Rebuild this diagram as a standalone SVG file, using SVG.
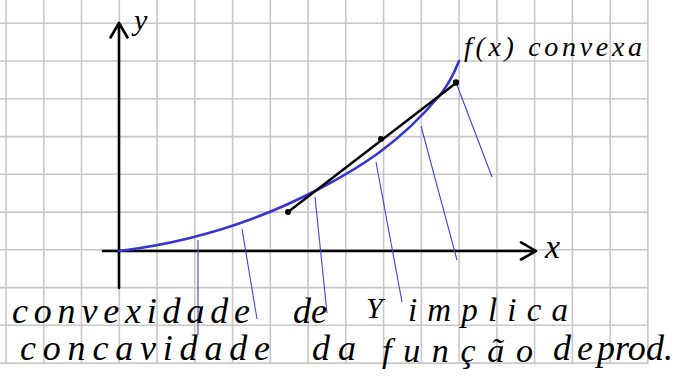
<svg xmlns="http://www.w3.org/2000/svg" width="678" height="381" viewBox="0 0 678 381">
<style>
.grid{stroke:#c8c8c8;stroke-width:1.6;fill:none}
.axis{stroke:#000;stroke-width:2.6;fill:none;stroke-linecap:round;stroke-linejoin:round}
.curve{stroke:#3535d0;stroke-width:2.6;fill:none;stroke-linecap:round}
.hatch{stroke:#3f3fe6;stroke-width:1.1;fill:none}
.chord{stroke:#000;stroke-width:2.4;fill:none}
.hw{font-family:"Liberation Serif","DejaVu Serif",serif;font-style:italic;fill:#000}
</style>
<rect width="678" height="381" fill="#fff"/>
<g id="grid" class="grid">
<path d="M6,0V363M43.8,0V363M81.5,0V363M119.3,0V363M157,0V363M194.8,0V363M232.6,0V363M270.3,0V363M308.1,0V363M345.8,0V363M383.6,0V363M421.4,0V363M459.1,0V363M496.9,0V363M534.6,0V363M572.4,0V363M610.2,0V363M647.9,0V363"/>
<path d="M0,23.3H648M0,61H648M0,98.8H648M0,136.6H648M0,174.3H648M0,212.1H648M0,249.8H648M0,287.6H648M0,325.3H648M0,363.1H648"/>
</g>
<g id="connectors">
<g id="axes" class="axis">
<path d="M119,288V23M110.5,37.5L119,23L127.5,37.5"/>
<path d="M103,251H536M521,242.3L536,251L521,259.5"/>
</g>
<g id="hatch" class="hatch">
<path d="M198,240V335"/>
<path d="M242,229L257,319"/>
<path d="M315,197L327,313"/>
<path d="M376,162L402,302"/>
<path d="M421,126L457,260"/>
<path d="M457,85L492,177"/>
</g>
</g>
<g id="curve">
<path class="curve" d="M119,251C185,243 251,224.3 317,190C358,168.7 399,144.2 440,95C446.3,87.4 452.7,76.8 459,61"/>
</g>
<g id="chord">
<path class="chord" d="M288,212L456,83"/>
<circle cx="288" cy="212" r="3"/>
<circle cx="381" cy="139" r="3"/>
<circle cx="456" cy="82.5" r="3.2"/>
</g>
<g id="labels" class="hw">
<text id="label-y" x="134" y="30" font-size="30">y</text>
<text id="label-x" x="545" y="258" font-size="34">x</text>
<text id="label-f" x="464" y="56" font-size="28" textLength="178" lengthAdjust="spacing">f(x) convexa</text>
<text x="12" y="323" font-size="36" textLength="238" lengthAdjust="spacing">convexidade</text>
<text x="293" y="323" font-size="36" textLength="34" lengthAdjust="spacing">de</text>
<text x="366" y="318" font-size="30">Y</text>
<text x="408" y="321" font-size="33" textLength="160" lengthAdjust="spacing">implica</text>
<text x="20" y="360" font-size="36" textLength="250" lengthAdjust="spacing">concavidade</text>
<text x="312" y="360" font-size="36" textLength="44" lengthAdjust="spacing">da</text>
<text x="382" y="362" font-size="34" textLength="151" lengthAdjust="spacing">função</text>
<text x="553" y="360" font-size="36" textLength="40" lengthAdjust="spacing">de</text>
<text x="597" y="360" font-size="36" textLength="76" lengthAdjust="spacing">prod.</text>
</g>
</svg>
